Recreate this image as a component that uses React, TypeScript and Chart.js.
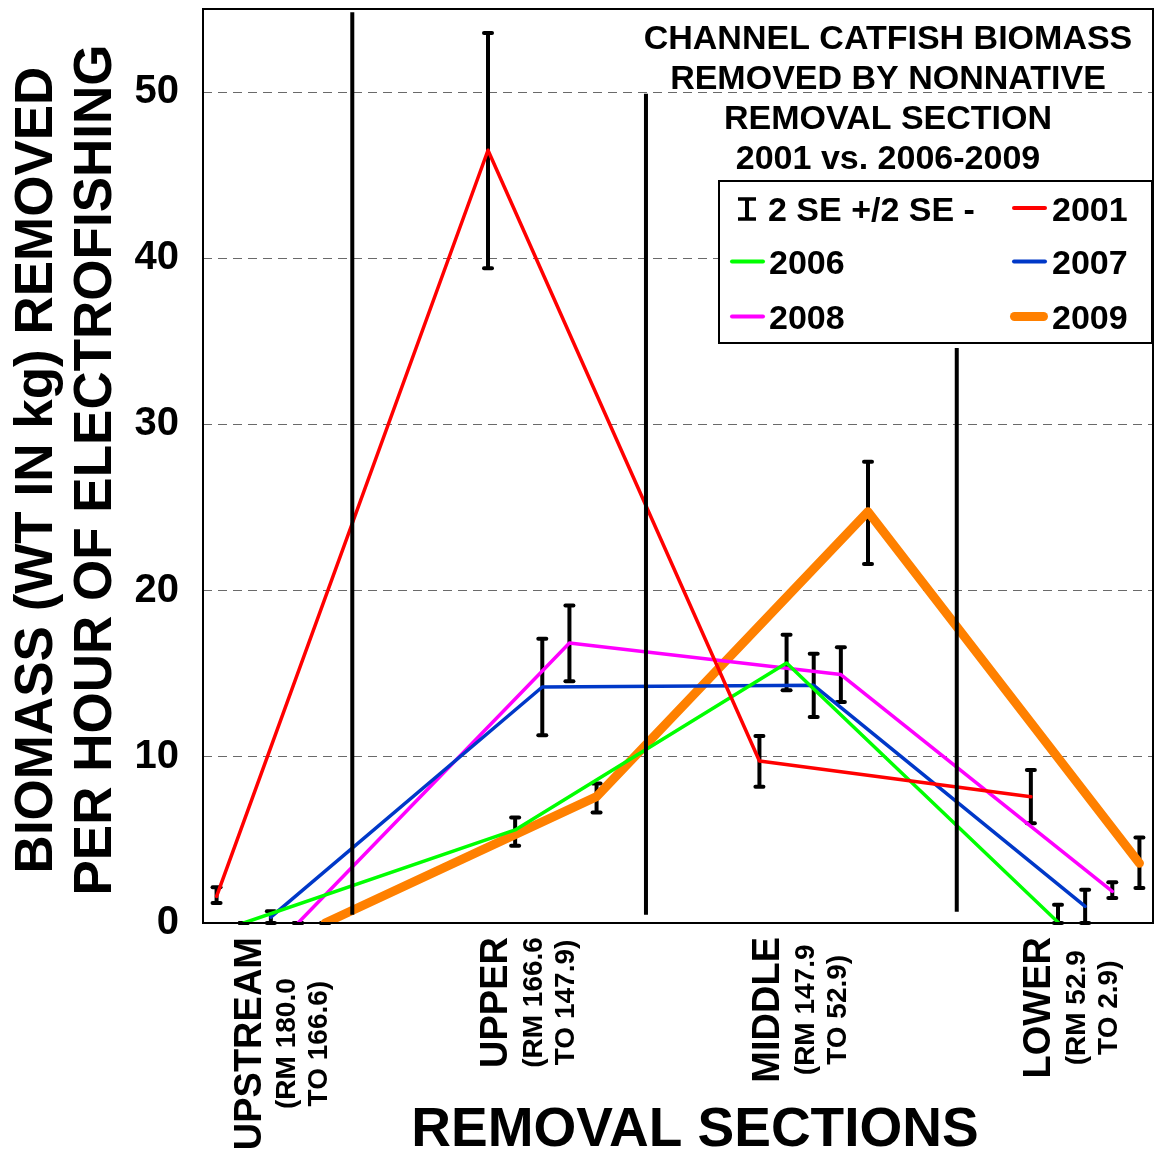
import React, { useEffect, useRef } from 'react';
import { Chart, registerables } from 'chart.js';

Chart.register(...registerables);

const FONT = '"Liberation Sans", Arial, Helvetica, sans-serif';

// ---- categories / labels ----
const SECTIONS = ['UPSTREAM', 'UPPER', 'MIDDLE', 'LOWER'];
const SECTION_RM = [
  ['(RM 180.0', 'TO 166.6)'],
  ['(RM 166.6', 'TO 147.9)'],
  ['(RM 147.9', 'TO 52.9)'],
  ['(RM 52.9', 'TO 2.9)'],
];
const SECTION_POS = [0, 10, 20, 30];
const LABEL_POS = [1.12, 10.2, 20.22, 30.2];

const YEARS = ['2001', '2006', '2007', '2008', '2009'];
const YEAR_OFFSET = [0, 1, 2, 3, 4];
const YEAR_COLORS = ['#FF0000', '#00FF00', '#0038C8', '#FF00FF', '#FF8000'];
const YEAR_WIDTHS = [3.5, 3.5, 3.5, 3.5, 9];

// ---- series values (kg per hour) and 2 SE bounds ----
const V2001 = [1.6, 46.5, 9.75, 7.6];
const LO2001 = [1.2, 39.4, 8.2, 6.0];
const HI2001 = [2.15, 53.55, 11.25, 9.2];

const V2006 = [0, 5.6, 15.65, 0.05];
const LO2006 = [0, 4.65, 14.0, 0];
const HI2006 = [0, 6.35, 17.35, 1.1];

const V2007 = [0.35, 14.2, 14.3, 1.0];
const LO2007 = [0, 11.3, 12.4, 0];
const HI2007 = [0.7, 17.1, 16.2, 2.0];

const V2008 = [0, 16.85, 14.95, 1.9];
const LO2008 = [0, 14.55, 13.3, 1.5];
const HI2008 = [0, 19.1, 16.6, 2.45];

const V2009 = [0, 7.6, 24.75, 3.6];
const LO2009 = [0, 6.65, 21.6, 2.1];
const HI2009 = [0, 8.4, 27.75, 5.15];

const SERIES = [V2001, V2006, V2007, V2008, V2009];
const SERIES_LO = [LO2001, LO2006, LO2007, LO2008, LO2009];
const SERIES_HI = [HI2001, HI2006, HI2007, HI2008, HI2009];

// ---- section divider lines ----
const DIVIDER_X = [5, 15.82, 27.27];
const DIVIDER_BOTTOM = [0.5, 0.5, 0.68];
const DIVIDER_TOP = [54.8, 49.9, 34.6];

const Y_MIN = 0;
const Y_MAX = 55;
const Y_STEP = 10;
const X_MIN = -0.5;
const X_MAX = 34.5;

const TITLE_LINES = ['CHANNEL CATFISH BIOMASS', 'REMOVED BY NONNATIVE', 'REMOVAL SECTION', '2001 vs. 2006-2009'];
const Y_TITLE = ['BIOMASS (WT IN kg) REMOVED', 'PER HOUR OF ELECTROFISHING'];
const X_TITLE = 'REMOVAL SECTIONS';
const ERR_LABEL = '2 SE +/2 SE -';
// legend slot (column, row) per year
const LEGEND_SLOTS = [[1, 0], [0, 1], [1, 1], [0, 2], [1, 2]];

function drawRot(ctx: CanvasRenderingContext2D, text: string, x: number, y: number, font: string) {
  ctx.save();
  ctx.translate(x, y);
  ctx.rotate(-Math.PI / 2);
  ctx.font = font;
  ctx.textAlign = 'center';
  ctx.textBaseline = 'alphabetic';
  ctx.fillText(text, 0, 0);
  ctx.restore();
}

const errorBarPlugin = {
  id: 'errorBars',
  beforeDatasetsDraw(chart: any) {
    const { ctx, scales } = chart;
    const xs = scales.x;
    const ys = scales.y;
    ctx.save();
    ctx.strokeStyle = '#000';
    ctx.lineWidth = 4;
    chart.data.datasets.forEach((ds: any) => {
      if (!ds.errLow) return;
      ds.data.forEach((pt: any, i: number) => {
        const px = xs.getPixelForValue(pt.x);
        const y1 = ys.getPixelForValue(ds.errLow[i]);
        const y2 = ys.getPixelForValue(ds.errHigh[i]);
        ctx.lineCap = 'butt';
        ctx.beginPath();
        ctx.moveTo(px, y1);
        ctx.lineTo(px, y2);
        ctx.stroke();
        ctx.lineCap = 'round';
        [y1, y2].forEach((yy) => {
          ctx.beginPath();
          ctx.moveTo(px - 4, yy);
          ctx.lineTo(px + 4, yy);
          ctx.stroke();
        });
      });
    });
    ctx.restore();
  },
};

const textPlugin = {
  id: 'texts',
  afterDraw(chart: any) {
    const { ctx, chartArea: ca, scales } = chart;
    const xs = scales.x;
    ctx.save();
    // plot frame
    ctx.strokeStyle = '#000';
    ctx.lineWidth = 2;
    ctx.strokeRect(ca.left, ca.top, ca.right - ca.left, ca.bottom - ca.top);

    ctx.fillStyle = '#000';
    // title inside plot
    ctx.font = `bold 34px ${FONT}`;
    ctx.textAlign = 'center';
    ctx.textBaseline = 'alphabetic';
    TITLE_LINES.forEach((t, i) => ctx.fillText(t, 888, 48.5 + i * 40.1));

    // legend box
    const LX = 719, LY = 181, LW = ca.right - 1 - 719, LH = 162;
    ctx.fillStyle = '#fff';
    ctx.fillRect(LX, LY, LW, LH);
    ctx.strokeStyle = '#000';
    ctx.lineWidth = 2;
    ctx.strokeRect(LX, LY, LW, LH);
    const rowBase = [220.5, 274, 329];
    const colLine = [[732, 763], [1014, 1045]];
    const colText = [769, 1052];
    ctx.fillStyle = '#000';
    ctx.font = `bold 34px ${FONT}`;
    ctx.textAlign = 'left';
    // error bar icon
    ctx.lineWidth = 4;
    ctx.lineCap = 'butt';
    ctx.beginPath();
    ctx.moveTo(747, 198);
    ctx.lineTo(747, 220);
    ctx.stroke();
    ctx.lineWidth = 3.5;
    ctx.beginPath();
    ctx.moveTo(738, 199);
    ctx.lineTo(756, 199);
    ctx.moveTo(738, 219);
    ctx.lineTo(756, 219);
    ctx.stroke();
    ctx.fillText(ERR_LABEL, 768, rowBase[0]);
    YEARS.forEach((yr, j) => {
      const [c, r] = LEGEND_SLOTS[j];
      const yMid = rowBase[r] - 12.5;
      ctx.strokeStyle = YEAR_COLORS[j];
      ctx.lineWidth = j === 4 ? 9 : 4;
      ctx.lineCap = 'round';
      ctx.beginPath();
      if (j === 4) {
        ctx.moveTo(colLine[c][0] + 0.5, yMid);
        ctx.lineTo(colLine[c][1] - 1.5, yMid);
      } else {
        ctx.moveTo(colLine[c][0], yMid);
        ctx.lineTo(colLine[c][1], yMid);
      }
      ctx.stroke();
      ctx.fillText(yr, colText[c], rowBase[r]);
    });

    // x category labels (rotated, multi-line)
    ctx.fillStyle = '#000';
    const bigFont = `bold 38px ${FONT}`;
    const smallFont = `bold 28px ${FONT}`;
    SECTIONS.forEach((name, i) => {
      const cx = xs.getPixelForValue(LABEL_POS[i]);
      ctx.font = bigFont;
      const wBig = ctx.measureText(name).width;
      ctx.font = smallFont;
      const wSmall = Math.max(...SECTION_RM[i].map((s) => ctx.measureText(s).width));
      const cy = ca.bottom + 14 + Math.max(wBig, wSmall) / 2;
      drawRot(ctx, name, cx + 0.358 * 38, cy, bigFont);
      drawRot(ctx, SECTION_RM[i][0], cx + 38.5 + 0.358 * 28, cy, smallFont);
      drawRot(ctx, SECTION_RM[i][1], cx + 70.5 + 0.358 * 28, cy, smallFont);
    });

    // y axis title
    const yFont = `bold 53px ${FONT}`;
    drawRot(ctx, Y_TITLE[0], 33.3 + 0.358 * 53, 470, yFont);
    drawRot(ctx, Y_TITLE[1], 91.7 + 0.358 * 53, 470, yFont);

    // x axis title
    ctx.font = `bold 55px ${FONT}`;
    ctx.textAlign = 'center';
    ctx.fillText(X_TITLE, 695, 1145.7);
    ctx.restore();
  },
};

export default function App() {
  const canvasRef = useRef<HTMLCanvasElement | null>(null);

  useEffect(() => {
    if (!canvasRef.current) return;
    Chart.defaults.font.family = FONT;

    const seriesSets = YEARS.map((yr, j) => ({
      label: yr,
      data: SECTION_POS.map((p, i) => ({ x: p + YEAR_OFFSET[j], y: SERIES[j][i] })),
      errLow: SERIES_LO[j],
      errHigh: SERIES_HI[j],
      showLine: true,
      borderColor: YEAR_COLORS[j],
      backgroundColor: YEAR_COLORS[j],
      borderWidth: YEAR_WIDTHS[j],
      pointRadius: 0,
      pointHoverRadius: 0,
      borderJoinStyle: 'round',
      borderCapStyle: 'round',
      tension: 0,
      order: j + 1,
    }));

    const dividerSets = DIVIDER_X.map((dx, i) => ({
      label: 'divider' + i,
      data: [
        { x: dx, y: DIVIDER_BOTTOM[i] },
        { x: dx, y: DIVIDER_TOP[i] },
      ],
      showLine: true,
      borderColor: '#000',
      backgroundColor: '#000',
      borderWidth: 4,
      pointRadius: 0,
      pointHoverRadius: 0,
      borderCapStyle: 'butt',
      order: 0,
    }));

    const chart = new Chart(canvasRef.current, {
      type: 'scatter',
      data: { datasets: [...seriesSets, ...dividerSets] as any },
      options: {
        animation: false,
        responsive: false,
        devicePixelRatio: 1,
        events: [],
        layout: { padding: { top: 9, right: 2, bottom: 0, left: 0 } },
        plugins: {
          legend: { display: false },
          title: { display: false },
          tooltip: { enabled: false },
        },
        scales: {
          x: {
            type: 'linear',
            min: X_MIN,
            max: X_MAX,
            ticks: { display: false },
            grid: { display: false },
            border: { display: false },
            afterFit: (s: any) => {
              s.height = 230;
              s.paddingLeft = 0;
              s.paddingRight = 0;
            },
          },
          y: {
            type: 'linear',
            min: Y_MIN,
            max: Y_MAX,
            ticks: {
              stepSize: Y_STEP,
              includeBounds: false,
              padding: 24,
              color: '#000',
              font: { family: FONT, size: 40, weight: 'bold' },
            },
            grid: {
              drawTicks: false,
              lineWidth: 1,
              color: (c: any) => (c.tick && c.tick.value > 0 ? '#6a6a6a' : 'rgba(0,0,0,0)'),
            },
            border: { display: false, dash: [9, 6] },
            afterFit: (s: any) => {
              s.width = 203;
              s.paddingTop = 0;
              s.paddingBottom = 0;
            },
          },
        } as any,
      },
      plugins: [errorBarPlugin, textPlugin],
    });

    return () => chart.destroy();
  }, []);

  return (
    <div style={{ position: 'absolute', left: 0, top: 0, width: 1155, height: 1153, background: '#fff' }}>
      <canvas ref={canvasRef} width={1155} height={1153} style={{ display: 'block' }} />
    </div>
  );
}
